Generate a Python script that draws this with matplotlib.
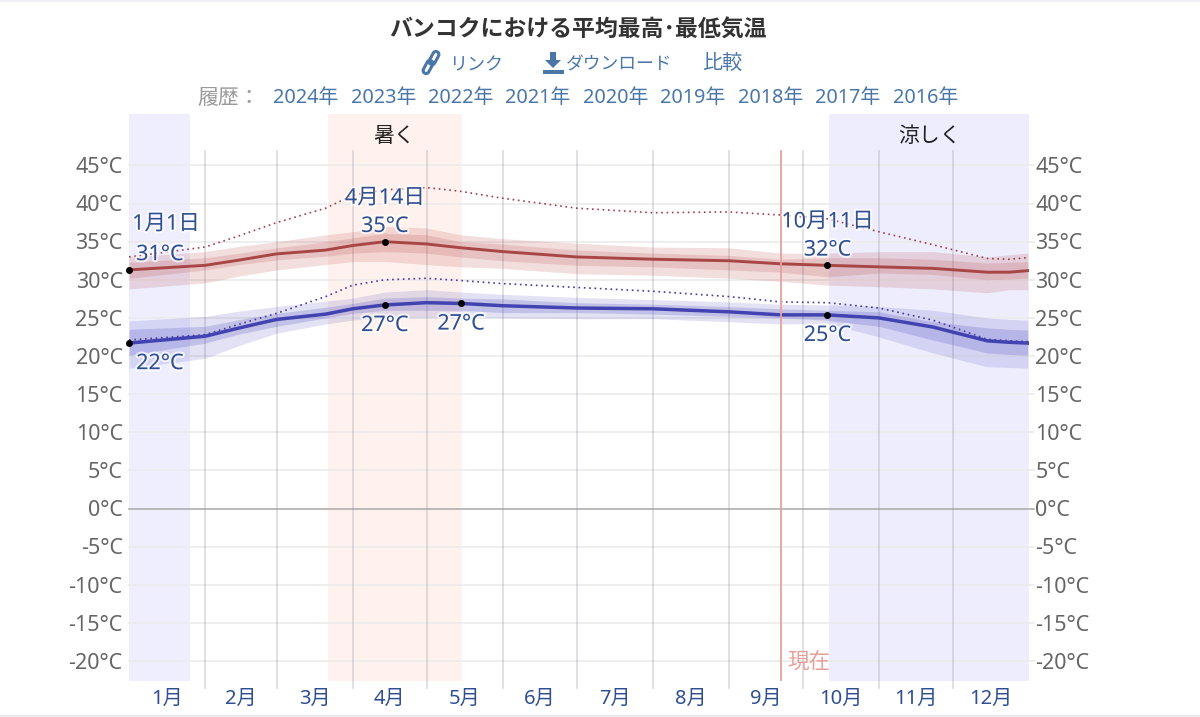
import matplotlib
matplotlib.use('Agg')
import matplotlib.pyplot as plt
import matplotlib.patheffects as pe
from matplotlib.patches import FancyBboxPatch, Polygon, Rectangle
from matplotlib.transforms import Affine2D

plt.rcParams['font.family'] = ['Noto Sans', 'Noto Sans CJK JP', 'DejaVu Sans']

title = 'バンコクにおける平均最高･最低気温'
years = ['2024年', '2023年', '2022年', '2021年', '2020年', '2019年', '2018年', '2017年', '2016年']
year_x = [306, 384, 461, 538, 616, 693, 771, 848, 926]
months = ['1月', '2月', '3月', '4月', '5月', '6月', '7月', '8月', '9月', '10月', '11月', '12月']
month_start = [0, 31, 60, 91, 121, 152, 182, 213, 244, 274, 305, 335, 366]
yticks = list(range(-20, 50, 5))

# nodes in day of year
day = [0, 31, 45, 60, 80, 91, 104, 121, 135, 152, 182, 213, 244, 265, 284, 305, 327, 349, 358, 365.5]
high = [31.3, 31.9, 32.6, 33.4, 33.9, 34.5, 35.0, 34.7, 34.2, 33.7, 33.0, 32.7, 32.5, 32.1, 31.9, 31.7, 31.5, 31.0, 31.0, 31.2]
high_p90 = [33.0, 33.7, 34.4, 35.0, 35.9, 36.3, 37.0, 36.8, 35.9, 35.4, 34.8, 34.3, 34.2, 33.5, 33.5, 33.7, 33.7, 33.0, 33.3, 33.5]
high_p75 = [32.3, 32.9, 33.5, 34.2, 35.0, 35.5, 36.1, 35.9, 35.0, 34.7, 33.9, 33.5, 33.2, 32.7, 32.9, 32.9, 32.7, 32.2, 32.3, 32.4]
high_p25 = [30.2, 31.3, 32.0, 32.6, 33.1, 33.5, 33.7, 33.5, 33.0, 32.5, 31.9, 31.7, 31.3, 31.0, 30.4, 30.9, 30.7, 30.0, 30.1, 30.2]
high_p10 = [28.8, 29.6, 30.5, 31.3, 32.0, 32.4, 32.4, 32.0, 31.7, 31.5, 30.8, 30.6, 30.2, 29.8, 29.3, 29.1, 28.8, 28.3, 28.7, 28.7]
low = [21.7, 22.6, 23.7, 24.8, 25.5, 26.2, 26.7, 27.0, 26.9, 26.6, 26.3, 26.2, 25.8, 25.4, 25.4, 25.0, 23.8, 22.0, 21.8, 21.7]
low_p90 = [24.6, 25.2, 25.9, 26.5, 27.2, 27.6, 28.4, 28.7, 28.4, 28.1, 27.7, 27.4, 27.1, 26.8, 26.7, 26.5, 26.0, 25.0, 24.8, 24.7]
low_p75 = [23.5, 23.9, 24.8, 25.6, 26.4, 26.9, 27.6, 27.8, 27.6, 27.5, 27.0, 26.8, 26.5, 26.2, 26.0, 25.8, 24.5, 23.7, 23.5, 23.4]
low_p25 = [20.1, 21.7, 22.9, 23.9, 25.0, 25.6, 26.0, 26.0, 26.0, 25.7, 25.7, 25.5, 25.2, 25.0, 24.7, 23.9, 22.1, 20.4, 20.2, 20.1]
low_p10 = [18.4, 19.7, 21.4, 23.0, 24.2, 24.7, 25.0, 25.0, 25.0, 25.0, 24.9, 24.9, 24.5, 24.2, 24.3, 22.5, 20.4, 18.6, 18.5, 18.4]
high_year = [33.0, 34.3, 35.8, 37.5, 39.4, 41.1, 41.8, 42.1, 41.6, 40.7, 39.4, 38.8, 38.9, 38.5, 38.0, 36.3, 34.6, 32.8, 32.7, 32.9]
low_year = [22.1, 22.8, 24.2, 25.6, 27.8, 29.3, 30.0, 30.2, 29.9, 29.5, 29.0, 28.5, 27.8, 27.1, 27.0, 26.3, 24.7, 22.2, 22.0, 21.9]

marks = [(0, 31.3, '1月1日', '31°C', 'above'), (104, 35.0, '4月14日', '35°C', 'above'),
         (284, 31.9, '10月11日', '32°C', 'above'), (0, 21.7, None, '22°C', 'below'),
         (104, 26.7, None, '27°C', 'below'), (135, 26.9, None, '27°C', 'below'),
         (284, 25.4, None, '25°C', 'below')]
now_day = 265

W, H = 1200, 717
label_blue = '#2f4f92'
tick_grey = '#666666'
link_blue = '#4a77a8'
halo = [pe.withStroke(linewidth=3, foreground='white', alpha=0.7)]


def fx(x):
    return x / W


def fy(y):
    return 1 - y / H


fig = plt.figure(figsize=(12, 7.17), dpi=100)
ax = fig.add_axes([fx(129), fy(681), 900 / W, 567 / H])
ax.set_xlim(0, 366)
ax.set_ylim((508.5 - 681) / 7.623, (508.5 - 114) / 7.623)
for s in ax.spines.values():
    s.set_visible(False)
ax.set_xticks([])
ax.set_yticks([])

# seasons
ax.axvspan(0, 24.8, color='#eeeeff', lw=0, zorder=0)
ax.axvspan(81, 135.5, color='#fff2ee', lw=0, zorder=0)
ax.axvspan(284.6, 366, color='#eeedfe', lw=0, zorder=0)

# grid
x_to_ax = ax.get_yaxis_transform()
for t in yticks:
    ax.plot([0, 1.006], [t, t], transform=x_to_ax, color='#ebebeb' if t else '#a8a8a8',
            lw=1.2 if t else 1.1, zorder=1, clip_on=False)
    lab = f'{t}°C'
    ax.text(-0.007, t - 0.3, lab, transform=x_to_ax, ha='right', va='center', fontsize=15.5, color=tick_grey)
    ax.text(1.007, t - 0.3, lab, transform=x_to_ax, ha='left', va='center', fontsize=15.5, color=tick_grey)

top = (508.5 - 151) / 7.623
bottom = (508.5 - 688) / 7.623
for d in month_start[1:-1]:
    ax.plot([d, d], [bottom, top], color='#8a8a9a', alpha=0.3, lw=1.2, zorder=1, clip_on=False)
for i, m in enumerate(months):
    mid = (month_start[i] + month_start[i + 1]) / 2
    ax.text(mid, -25.0, m, ha='center', va='center', fontsize=14.5, color=label_blue, clip_on=False)

# bands
ax.fill_between(day, high_p10, high_p90, color='#b8403c', alpha=0.17, lw=0, zorder=2)
ax.fill_between(day, high_p25, high_p75, color='#b03c3c', alpha=0.17, lw=0, zorder=2)
ax.fill_between(day, low_p10, low_p90, color='#4040b8', alpha=0.15, lw=0, zorder=2)
ax.fill_between(day, low_p25, low_p75, color='#4040b8', alpha=0.2, lw=0, zorder=2)
ax.plot(day, high_year, color='#a0404a', lw=1.2, ls=(0, (1, 2.2)), zorder=3)
ax.plot(day, low_year, color='#4a3a9a', lw=1.2, ls=(0, (1, 2.2)), zorder=3)
ax.plot(day, high, color='#a84646', lw=2.1, zorder=4)
ax.plot(day, low, color='#4242b0', lw=2.5, zorder=4)

# now line
ax.plot([now_day, now_day], [ax.get_ylim()[0], top], color='#eaa09a', lw=1.3, zorder=4)
ax.text(now_day + 2.8, -20.3, '現在', ha='left', va='center', fontsize=15.5, color='#e8a09a')

# season names
ax.text(108, 48.8, '暑く', ha='center', va='center', fontsize=15, color='#222222')
ax.text(325.5, 48.8, '涼しく', ha='center', va='center', fontsize=15, color='#222222')

# marked points
for d, v, date, temp, where in marks:
    ax.plot([d], [v], 'o', color='black', ms=4, zorder=6, clip_on=False)
    x_text = d + 12.5 if d == 0 else d
    if where == 'above':
        ax.text(x_text, v + 2.0, temp, ha='center', va='center', fontsize=15.5, color=label_blue, zorder=7, path_effects=halo)
        ax.text(x_text + (2.5 if d == 0 else 0), v + 5.7 + (0.3 if d == 0 else 0), date, ha='center', va='center', fontsize=15.5, color=label_blue, zorder=7, path_effects=halo)
    else:
        ax.text(x_text, v - 2.7, temp, ha='center', va='center', fontsize=15.5, color=label_blue, zorder=7, path_effects=halo)

# header
fig.text(fx(578), fy(30.5), title, ha='center', va='center', fontsize=16.5, fontweight='bold', color='#333333')
fig.text(fx(476), fy(65), 'リンク', ha='center', va='center', fontsize=13, color=link_blue)
fig.text(fx(619), fy(65), 'ダウンロード', ha='center', va='center', fontsize=12.8, color=link_blue)
fig.text(fx(722), fy(65), '比較', ha='center', va='center', fontsize=14.5, color=link_blue)
fig.text(fx(229), fy(98), '履歴：', ha='center', va='center', fontsize=15, color='#999999')
for x, y in zip(year_x, years):
    fig.text(fx(x), fy(98), y, ha='center', va='center', fontsize=14.3, color=link_blue)

# icons and page edges, drawn in pixel space
over = fig.add_axes([0, 0, 1, 1], facecolor='none')
over.set_xlim(0, W)
over.set_ylim(H, 0)
over.axis('off')
over.set_zorder(-1)
for cx, cy in [(428, 67), (434, 58)]:
    rot = Affine2D().rotate_deg_around(cx, cy, -62) + over.transData
    over.add_patch(FancyBboxPatch((cx - 7, cy - 3), 14, 6, boxstyle='round,pad=0,rounding_size=3',
                                  fc='none', ec=link_blue, lw=2.2, transform=rot))
over.add_patch(Polygon([(550, 52), (556, 52), (556, 60), (561, 60), (553, 68), (545, 60), (550, 60)],
                       fc=link_blue, ec='none'))
over.add_patch(Rectangle((543, 70), 21, 4, fc=link_blue, ec='none'))
over.plot([0, W], [0.5, 0.5], color='#eef0f4', lw=1.5)
over.plot([0, W], [716, 716], color='#e4e6ea', lw=1.2)

fig.savefig('out.png', dpi=100)
